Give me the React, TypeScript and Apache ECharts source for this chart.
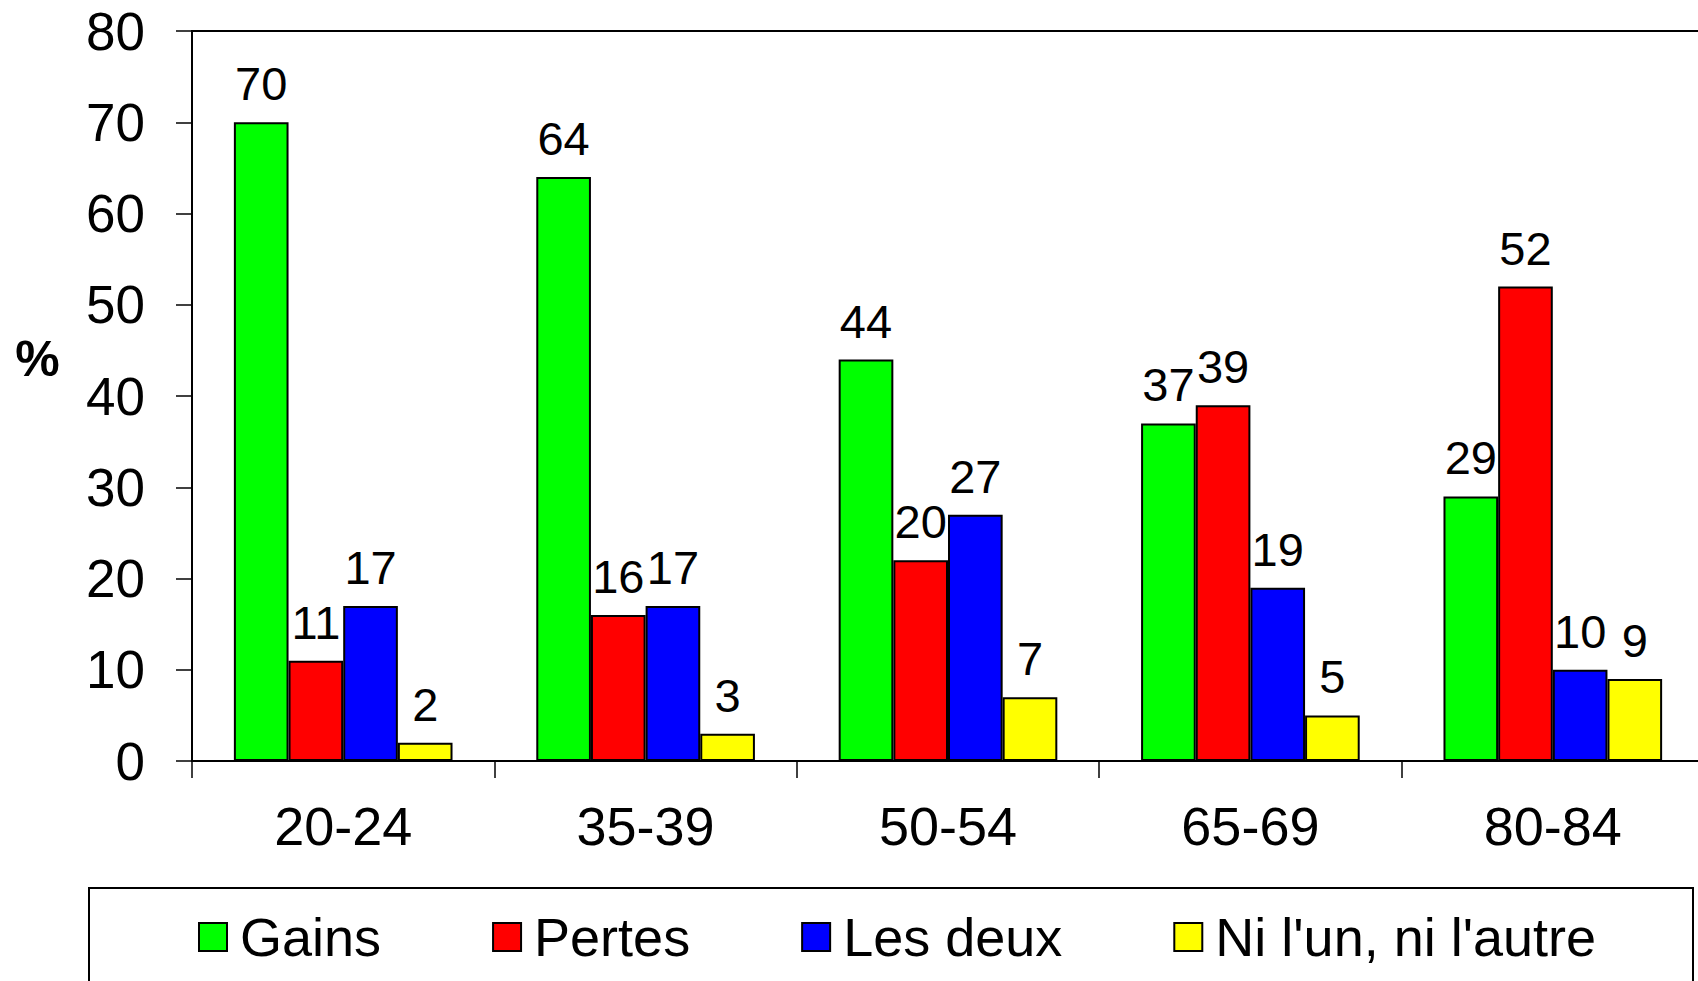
import React, { useEffect, useRef } from "react";
import * as echarts from "echarts";

const categories = ["20-24", "35-39", "50-54", "65-69", "80-84"];
const seriesNames = ["Gains", "Pertes", "Les deux", "Ni l'un, ni l'autre"];
const gains = [70, 64, 44, 37, 29];
const pertes = [11, 16, 22, 39, 52];
const pertesLabels = ["11", "16", "20", "39", "52"];
const lesDeux = [17, 17, 27, 19, 10];
const niLunNiLautre = [2, 3, 7, 5, 9];
const colors = ["#00ff00", "#ff0000", "#0000ff", "#ffff00"];
const yMin = 0;
const yMax = 80;
const yInterval = 10;
const yAxisName = "%";

const FONT = "'Liberation Sans', Arial, sans-serif";

export default function App() {
  const ref = useRef<HTMLDivElement>(null);
  useEffect(() => {
    if (!ref.current) return;
    const chart = echarts.init(ref.current, null, { renderer: "svg" });
    const values = [gains, pertes, lesDeux, niLunNiLautre];
    const labelTexts = [null, pertesLabels, null, null];
    chart.setOption({
      animation: false,
      backgroundColor: "#ffffff",
      textStyle: { fontFamily: FONT },
      grid: {
        left: 192,
        top: 31,
        width: 1512,
        height: 730,
        show: true,
        borderColor: "#000",
        borderWidth: 2,
        backgroundColor: "transparent",
      },
      legend: {
        left: 198,
        top: 910,
        padding: 0,
        itemWidth: 28,
        itemHeight: 28,
        itemGap: 111,
        icon: "rect",
        data: seriesNames,
        textStyle: {
          fontFamily: FONT,
          fontSize: 54,
          color: "#000",
          lineHeight: 54,
          padding: [0, 0, 0, 8],
        },
      },
      graphic: [
        {
          type: "rect",
          shape: { x: 89, y: 888, width: 1604, height: 200 },
          style: { fill: "none", stroke: "#000", lineWidth: 2 },
          silent: true,
        },
        {
          type: "text",
          x: 37.5,
          y: 359,
          style: {
            text: yAxisName,
            fontFamily: FONT,
            fontSize: 50,
            fontWeight: "bold",
            fill: "#000",
            align: "center",
            verticalAlign: "middle",
          },
        },
      ],
      xAxis: {
        type: "category",
        data: categories,
        boundaryGap: true,
        axisLine: { show: true, lineStyle: { color: "#000", width: 2 } },
        axisTick: {
          show: true,
          interval: 0,
          length: 17,
          lineStyle: { color: "#000", width: 1.5 },
        },
        axisLabel: {
          interval: 0,
          margin: 38,
          fontSize: 54,
          color: "#000",
          fontFamily: FONT,
        },
        splitLine: { show: false },
      },
      yAxis: {
        type: "value",
        min: yMin,
        max: yMax,
        interval: yInterval,
        axisLine: { show: true, lineStyle: { color: "#000", width: 2 } },
        axisTick: { show: true, length: 16, lineStyle: { color: "#000", width: 1.5 } },
        axisLabel: { margin: 47, fontSize: 53, color: "#000", fontFamily: FONT },
        splitLine: { show: false },
      },
      series: seriesNames.map((name, i) => ({
        name,
        type: "bar",
        data: values[i],
        barGap: "0%",
        barCategoryGap: "27.7%",
        itemStyle: { color: colors[i], borderColor: "#000", borderWidth: 2 },
        label: {
          show: true,
          position: "top",
          distance: 15,
          fontSize: 47,
          color: "#000",
          fontFamily: FONT,
          formatter: labelTexts[i]
            ? (p: any) => (labelTexts[i] as string[])[p.dataIndex]
            : "{c}",
        },
      })),
    });
    return () => chart.dispose();
  }, []);
  return (
    <div
      style={{
        position: "absolute",
        left: 0,
        top: 0,
        width: 1698,
        height: 981,
        overflow: "hidden",
      }}
    >
      <div ref={ref} style={{ width: 1720, height: 981 }} />
    </div>
  );
}
